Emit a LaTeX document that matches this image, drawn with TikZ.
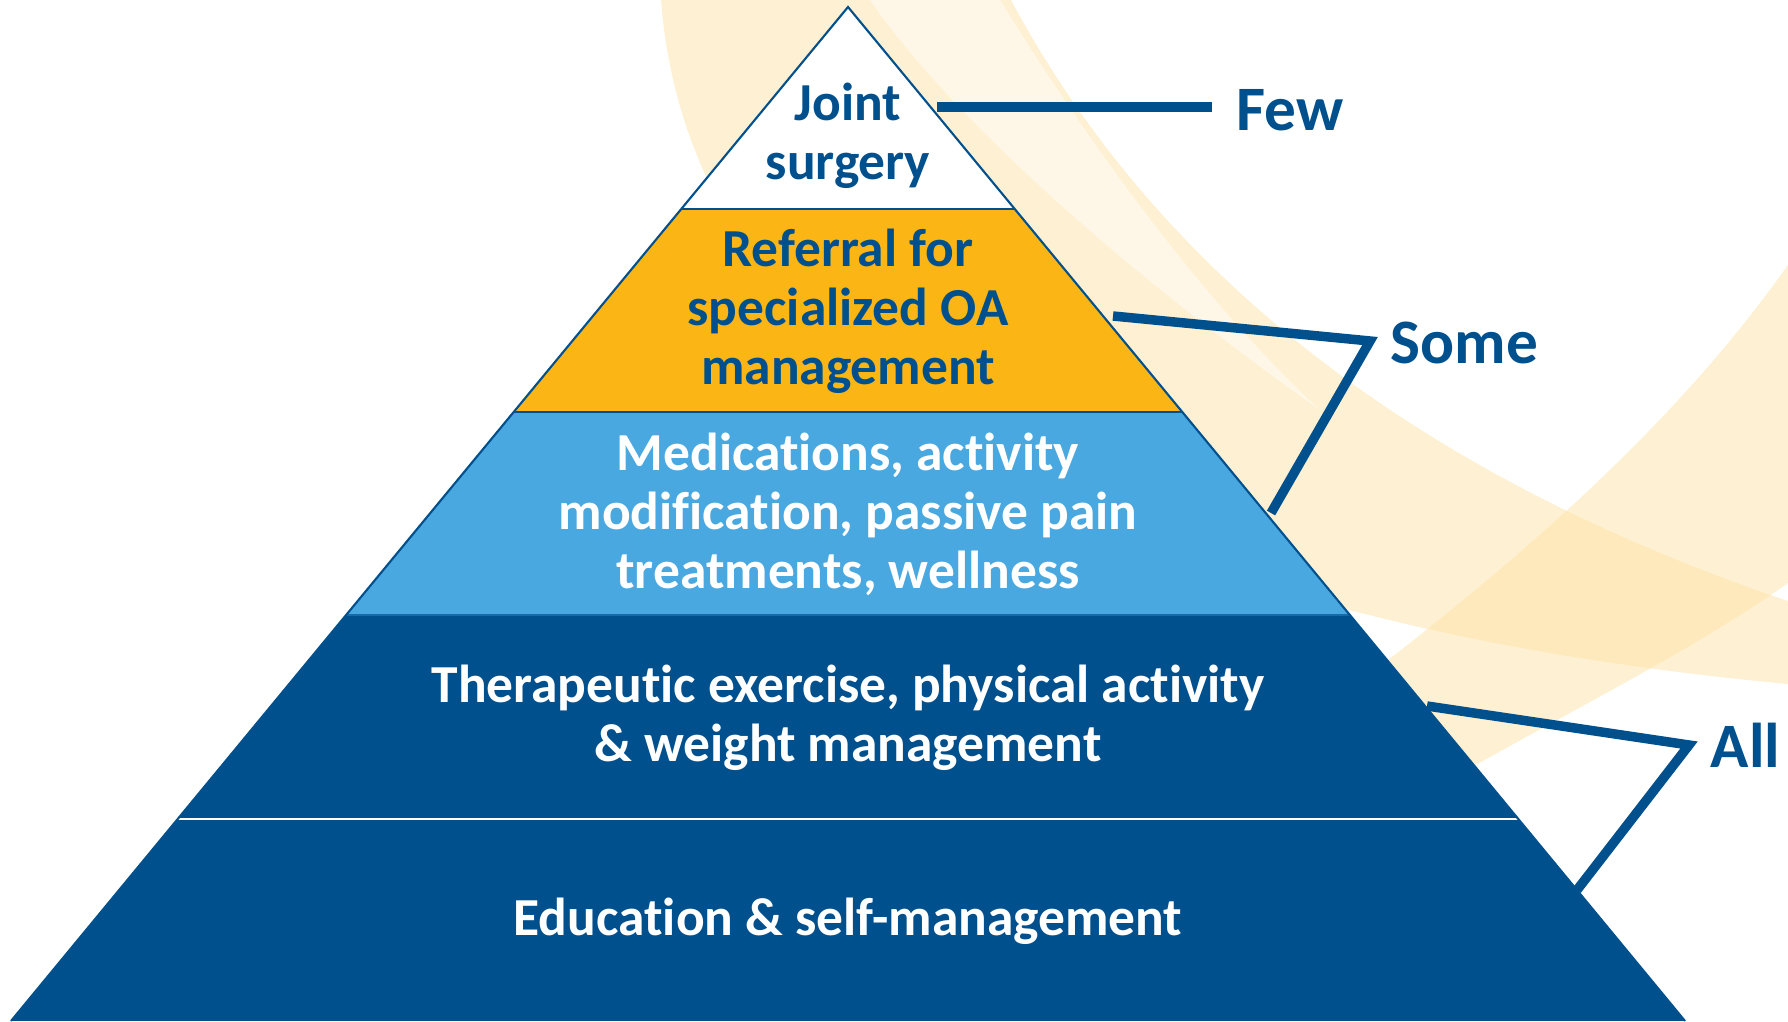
\documentclass[tikz,border=0pt]{standalone}
\usepackage{fontspec}
\setmainfont[Ligatures=NoCommon]{Carlito}
\usepackage{tikz}

\definecolor{oadark}{RGB}{0,80,142}
\definecolor{oalight}{RGB}{74,168,224}
\definecolor{oaorange}{RGB}{251,182,21}
\definecolor{oacream}{RGB}{253,226,165}

\begin{document}
\begin{tikzpicture}[x=0.01cm, y=-0.01cm,
    tier/.style={align=center, font=\fontsize{15.2}{16.8}\selectfont\bfseries},
    reach/.style={anchor=base west, inner sep=0pt, text=oadark, font=\fontsize{18}{20}\selectfont\bfseries},
    bracket/.style={oadark, line width=2.7pt, line join=miter}]
    \useasboundingbox (0,0) rectangle (1788,1021);

    % Background swooshes
    \fill[oacream, opacity=0.5] (661,0) -- (1011,0) .. controls (1150,260) and (1400,470) .. (1788,601)
        -- (1788,684) .. controls (1100,620) and (690,380) .. (661,0) -- cycle;
    \fill[white, opacity=0.5] (870,0) -- (1000,0) .. controls (1080,130) and (1200,300) .. (1320,410)
        .. controls (1150,290) and (960,130) .. (870,0) -- cycle;
    \fill[oacream, opacity=0.5] (1200,800) .. controls (1450,620) and (1650,460) .. (1788,265)
        -- (1788,583) .. controls (1650,680) and (1500,740) .. (1250,900) -- cycle;

    % Pyramid tiers
    \coordinate (apex) at (848,7);
    \coordinate (base-l) at (11,1021);
    \coordinate (base-r) at (1685,1021);
    \begin{scope}
      \clip (apex) -- (base-l) -- (base-r) -- cycle;
      \fill[white] (0,0) rectangle (1788,209);
      \fill[oaorange] (0,209) rectangle (1788,412);
      \fill[oalight] (0,412) rectangle (1788,615);
      \fill[oadark] (0,615) rectangle (1788,1021);
      \draw[oadark, line width=0.6pt] (0,209) -- (1788,209) (0,412) -- (1788,412);
      \draw[oadark!70!oalight, line width=0.6pt] (0,615) -- (1788,615);
      \draw[white, line width=0.6pt] (0,819) -- (1788,819);
    \end{scope}
    \draw[oadark, line width=0.6pt] (base-l) -- (apex) -- (base-r);

    % Tier labels
    \node[tier, text=oadark] (surgery) at (848,136) {Joint\\surgery};
    \node[tier, text=oadark] (referral) at (848,311) {Referral for\\specialized OA\\management};
    \node[tier, text=white] (medication) at (848,514) {Medications, activity\\modification, passive pain\\treatments, wellness};
    \node[tier, text=white] (exercise) at (848,718) {Therapeutic exercise, physical activity\\\& weight management};
    \node[tier, text=white] (education) at (848,921) {Education \& self-management};

    % Few / Some / All
    \node[reach] (few) at (1236,130) {Few};
    \node[reach] (some) at (1390,363) {Some};
    \node[reach] (all) at (1710,767) {All};
    \coordinate (few-a) at (937,107);
    \coordinate (few-b) at (1212,107);
    \coordinate (some-a) at (1113,316);
    \coordinate (some-b) at (1370,341);
    \coordinate (some-c) at (1271,513);
    \coordinate (all-a) at (1427,706);
    \coordinate (all-b) at (1689,745);
    \coordinate (all-c) at (1577,890);
    \draw[bracket] (few-a) -- (few-b);
    \draw[bracket] (some-a) -- (some-b) -- (some-c);
    \draw[bracket] (all-a) -- (all-b) -- (all-c);
\end{tikzpicture}
\end{document}
